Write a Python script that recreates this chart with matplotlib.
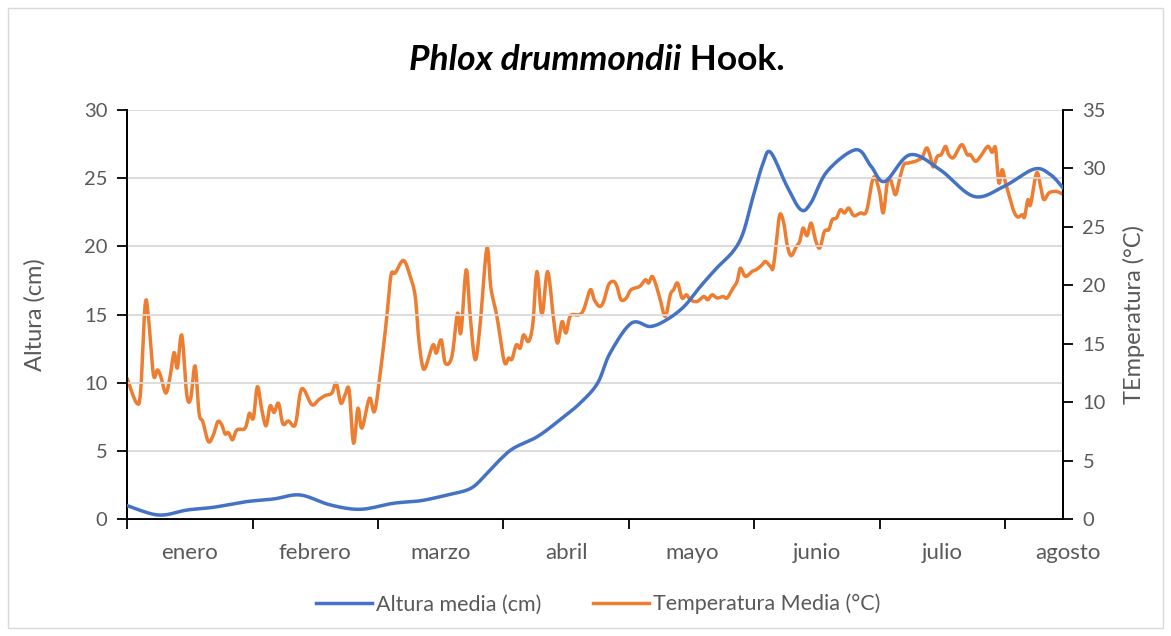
import matplotlib
matplotlib.use("Agg")
import matplotlib.pyplot as plt
import numpy as np
from matplotlib.patches import Rectangle
from matplotlib.lines import Line2D
import matplotlib.transforms as mtransforms

plt.rcParams['font.family'] = ['Lato', 'DejaVu Sans']

# datos (x en meses desde el 1 de enero)
meses = ['enero', 'febrero', 'marzo', 'abril', 'mayo', 'junio', 'julio', 'agosto']

alt_x = [0.0, 0.25, 0.48, 0.69, 0.95, 1.17, 1.38, 1.62, 1.86, 2.12, 2.34, 2.55, 2.74,
         2.87, 2.97, 3.08, 3.27, 3.45, 3.61, 3.75, 3.85, 4.02, 4.17, 4.30, 4.44, 4.57,
         4.70, 4.83, 4.91, 4.99, 5.07, 5.13, 5.26, 5.37, 5.45, 5.58, 5.81, 5.93, 6.04,
         6.24, 6.48, 6.75, 6.99, 7.23, 7.36, 7.46]
alt_y = [0.98, 0.29, 0.66, 0.86, 1.27, 1.47, 1.76, 1.03, 0.71, 1.15, 1.34, 1.76, 2.25,
         3.36, 4.33, 5.19, 6.04, 7.27, 8.49, 9.96, 12.17, 14.37, 14.12, 14.61, 15.59, 17.06,
         18.41, 19.63, 20.98, 23.66, 26.12, 26.89, 24.40, 22.69, 23.18, 25.5, 27.09, 25.87, 24.76,
         26.72, 25.62, 23.66, 24.40, 25.67, 25.26, 24.28]

temp_x = [0.00, 0.077, 0.109, 0.144, 0.170, 0.210, 0.242, 0.269, 0.309, 0.343, 0.375, 0.401,
          0.436, 0.476, 0.508, 0.542, 0.574, 0.604, 0.648, 0.688, 0.723, 0.755, 0.781, 0.808,
          0.840, 0.875, 0.941, 0.975, 1.007, 1.039, 1.074, 1.108, 1.140, 1.172, 1.207, 1.242,
          1.286, 1.340, 1.380, 1.411, 1.473, 1.526, 1.579, 1.632, 1.667, 1.704, 1.738, 1.770,
          1.805, 1.840, 1.872, 1.932, 1.972, 2.018, 2.065, 2.103, 2.137, 2.203, 2.257, 2.297,
          2.323, 2.350, 2.376, 2.438, 2.464, 2.504, 2.536, 2.589, 2.634, 2.661, 2.703, 2.735,
          2.775, 2.815, 2.868, 2.900, 2.948, 3.006, 3.041, 3.068, 3.102, 3.134, 3.160, 3.200,
          3.235, 3.267, 3.307, 3.352, 3.400, 3.431, 3.467, 3.498, 3.533, 3.599, 3.639, 3.692,
          3.724, 3.766, 3.798, 3.838, 3.878, 3.905, 3.937, 3.979, 4.017, 4.085, 4.131, 4.157,
          4.184, 4.211, 4.250, 4.290, 4.330, 4.356, 4.388, 4.423, 4.458, 4.490, 4.543, 4.596,
          4.628, 4.663, 4.703, 4.750, 4.782, 4.822, 4.862, 4.888, 4.928, 4.982, 5.022, 5.062,
          5.088, 5.128, 5.149, 5.175, 5.202, 5.234, 5.261, 5.293, 5.335, 5.361, 5.388, 5.420,
          5.452, 5.486, 5.521, 5.558, 5.593, 5.620, 5.654, 5.686, 5.718, 5.752, 5.792, 5.845,
          5.893, 5.939, 5.965, 5.999, 6.027, 6.059, 6.085, 6.124, 6.159, 6.191, 6.230, 6.284,
          6.318, 6.337, 6.372, 6.398, 6.425, 6.457, 6.489, 6.523, 6.549, 6.584, 6.616, 6.656,
          6.696, 6.722, 6.762, 6.802, 6.860, 6.895, 6.922, 6.948, 6.975, 7.002, 7.036, 7.068,
          7.100, 7.135, 7.153, 7.180, 7.201, 7.249, 7.281, 7.307, 7.347, 7.400, 7.440, 7.462]
temp_y = [12.05, 9.91, 11.05, 18.33, 17.33, 12.34, 12.76, 12.19, 10.77, 12.19, 14.25, 12.91,
          15.76, 10.62, 10.34, 13.11, 9.05, 8.33, 6.62, 7.20, 8.33, 8.05, 7.28, 7.39,
          6.77, 7.62, 7.77, 9.05, 8.63, 11.33, 9.34, 7.97, 9.68, 9.11, 9.91, 8.14,
          8.39, 8.05, 10.77, 11.05, 9.77, 10.19, 10.56, 10.77, 11.62, 9.91, 10.62, 11.05,
          6.48, 9.48, 7.77, 10.34, 9.19, 12.48, 16.76, 20.82, 21.05, 22.13, 20.76, 19.04,
          15.62, 13.34, 12.91, 14.90, 14.19, 15.33, 13.34, 13.90, 17.62, 15.91, 21.33, 17.33,
          13.62, 16.76, 23.19, 19.76, 17.33, 13.47, 13.77, 13.68, 14.90, 14.62, 15.76, 15.19,
          16.76, 21.18, 17.47, 21.18, 17.05, 15.05, 16.90, 15.91, 17.39, 17.47, 17.90, 19.62,
          18.76, 18.19, 18.61, 20.04, 20.33, 19.90, 18.76, 18.91, 19.62, 19.90, 20.47, 20.19,
          20.76, 20.19, 18.76, 17.33, 19.19, 19.62, 20.19, 18.91, 19.19, 18.76, 18.61, 19.04,
          18.76, 19.19, 18.91, 19.04, 18.91, 19.62, 20.33, 21.47, 20.76, 21.18, 21.39, 21.76,
          22.04, 21.61, 21.47, 23.62, 26.04, 25.33, 23.47, 22.53, 23.33, 23.75, 24.90, 24.24,
          25.33, 23.90, 23.19, 24.61, 24.76, 25.61, 25.76, 26.47, 26.19, 26.61, 25.96, 26.19,
          26.32, 28.89, 29.18, 27.90, 26.19, 28.76, 29.04, 27.75, 29.18, 30.32, 30.47, 30.61,
          30.81, 30.90, 31.75, 31.18, 30.13, 31.03, 31.18, 31.89, 31.18, 30.90, 31.46, 32.04,
          31.18, 31.18, 30.61, 31.03, 31.89, 31.38, 31.75, 28.76, 29.90, 28.76, 27.47, 26.32,
          25.84, 26.04, 25.84, 27.33, 26.90, 29.61, 28.46, 27.33, 27.90, 28.04, 27.90, 27.75]

AZUL = '#4472C4'
NARANJA = '#ED7D31'
GRIS = '#595959'


def suavizar(x, y, n=10):
    # curva tipo Catmull-Rom (como la línea suavizada de Excel), solo para dibujar
    x = np.asarray(x, float); y = np.asarray(y, float)
    px = np.concatenate([[x[0]], x, [x[-1]]])
    py = np.concatenate([[y[0]], y, [y[-1]]])
    t = np.linspace(0, 1, n, endpoint=False)[:, None]
    xs, ys = [], []
    for i in range(len(x) - 1):
        P = np.array([[px[i + k], py[i + k]] for k in range(4)])
        c = 0.5 * ((2 * P[1]) + (-P[0] + P[2]) * t + (2 * P[0] - 5 * P[1] + 4 * P[2] - P[3]) * t ** 2
                   + (-P[0] + 3 * P[1] - 3 * P[2] + P[3]) * t ** 3)
        xs.append(c[:, 0]); ys.append(c[:, 1])
    xs.append([x[-1]]); ys.append([y[-1]])
    return np.concatenate(xs), np.concatenate(ys)


fig = plt.figure(figsize=(11.71, 6.36), dpi=100)
ax = fig.add_axes([0.1085, 0.184, 0.7993, 0.643])
ax2 = ax.twinx()

xa, ya = suavizar(alt_x, alt_y)
xt, yt = suavizar(temp_x, temp_y, n=6)
ax.plot(xa, ya, color=AZUL, lw=2.5, zorder=3, solid_capstyle='round')
ax2.plot(xt, yt, color=NARANJA, lw=2.5, zorder=3, solid_capstyle='round')
ax.set_zorder(ax2.get_zorder() + 1)
ax.patch.set_visible(False)

ax.set_xlim(0, 7.46)
ax.set_ylim(0, 30)
ax2.set_ylim(0, 35)
ax.set_yticks(range(0, 31, 5))
ax2.set_yticks(range(0, 36, 5))
ax.set_xticks(range(0, 8))
ax.set_xticklabels([])
ax.grid(axis='y', color='#d9d9d9', lw=1.3)
ax.set_axisbelow(True)

for a in (ax, ax2):
    a.spines['top'].set_visible(False)
    for s in ('left', 'right', 'bottom'):
        a.spines[s].set_linewidth(1.3)
        a.spines[s].set_color('black')
    a.tick_params(axis='both', direction='out', length=7, width=1.3, colors='black',
                  labelcolor=GRIS, labelsize=14.5)
ax.tick_params(axis='y', pad=7)
ax2.tick_params(axis='y', pad=7)

trans = mtransforms.blended_transform_factory(ax.transData, ax.transAxes)
for i, m in enumerate(meses):
    ax.text(i + 0.5, -0.082, m, transform=trans, ha='center', va='center',
            fontsize=16, color=GRIS, clip_on=False)

ax.set_ylabel('Altura (cm)', fontsize=17, color=GRIS, labelpad=28)
ax2.set_ylabel('TEmperatura (°C)', fontsize=17, color=GRIS, labelpad=12)

# título: parte en cursiva + parte normal, ambas en negrita
t1 = fig.text(0, 0.905, 'Phlox drummondii', fontsize=25.5, fontweight='bold', style='italic',
              ha='left', va='center')
t2 = fig.text(0, 0.905, ' Hook.', fontsize=25.5, fontweight='bold', ha='left', va='center')
fig.canvas.draw()
r = fig.canvas.get_renderer()
W = fig.bbox.width
w1 = t1.get_window_extent(r).width
w2 = t2.get_window_extent(r).width
x0 = 597 - (w1 + w2) / 2
t1.set_x(x0 / W)
t2.set_x((x0 + w1) / W)

handles = [Line2D([], [], color=AZUL, lw=2.5), Line2D([], [], color=NARANJA, lw=2.5)]
fig.legend(handles, ['Altura media (cm)', 'Temperatura Media (°C)'], loc='center',
           bbox_to_anchor=(0.511, 0.05), ncol=2, frameon=False, fontsize=15.5,
           labelcolor=GRIS, handlelength=2.6, handletextpad=0.2, columnspacing=2.4)

fig.patches.append(Rectangle((8 / 1171, 8 / 636), 1155 / 1171, 620 / 636, transform=fig.transFigure,
                             fill=False, ec='#d9d9d9', lw=1))

fig.savefig('out.png', dpi=100)
